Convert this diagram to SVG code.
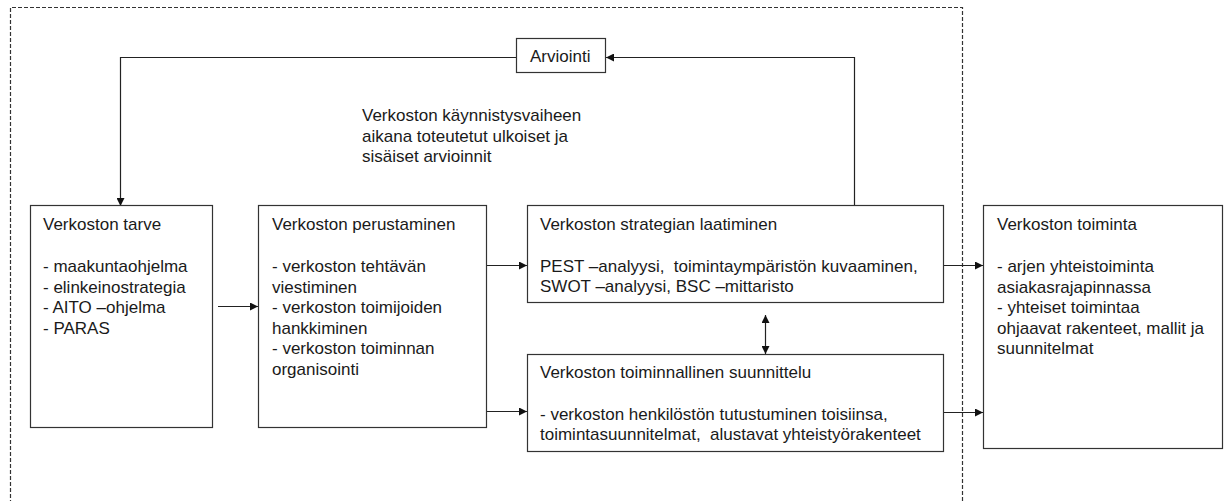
<svg xmlns="http://www.w3.org/2000/svg" width="1227" height="501" viewBox="0 0 1227 501">
  <defs>
    <marker id="arrow" viewBox="0 0 10 10" refX="10" refY="5" markerWidth="10" markerHeight="8" markerUnits="userSpaceOnUse" orient="auto-start-reverse">
      <path d="M0,0 L10,5 L0,10 z" fill="#111"/>
    </marker>
    <style>
      .box { fill: #fff; stroke: #333; stroke-width: 1.2; }
      .conn { fill: none; stroke: #222; stroke-width: 1.2; }
      .frame { fill: none; stroke: #333; stroke-width: 1.2; stroke-dasharray: 4 2; }
      text { font-family: "Liberation Sans", Arial, sans-serif; font-size: 17px; fill: #1a1a1a; }
    </style>
  </defs>
  <rect width="1227" height="501" fill="#fff"/>

  <!-- dashed frame around the start-up phase -->
  <path class="frame" d="M10.5,510 L10.5,7.5 L962.5,7.5 L962.5,510"/>

  <!-- connectors -->
  <g id="connectors">
    <!-- evaluation loop -->
    <path class="conn" d="M854.5,206 L854.5,57.5 L606,57.5" marker-end="url(#arrow)"/>
    <path class="conn" d="M516,57.5 L120.5,57.5 L120.5,206" marker-end="url(#arrow)"/>
    <!-- process flow -->
    <path class="conn" d="M218,306.5 L258,306.5" marker-end="url(#arrow)"/>
    <path class="conn" d="M487,265.5 L527,265.5" marker-end="url(#arrow)"/>
    <path class="conn" d="M487,411.5 L527,411.5" marker-end="url(#arrow)"/>
    <path class="conn" d="M944,265.5 L983,265.5" marker-end="url(#arrow)"/>
    <path class="conn" d="M944,412.5 L983,412.5" marker-end="url(#arrow)"/>
    <!-- strategy <-> operational planning -->
    <path class="conn" d="M765.5,315 L765.5,354" marker-start="url(#arrow)" marker-end="url(#arrow)"/>
  </g>

  <g id="arviointi">
    <rect class="box" x="516.5" y="38.5" width="89" height="34"/>
    <text x="530" y="62">Arviointi</text>
  </g>

  <g id="note">
    <text x="362" y="121">Verkoston käynnistysvaiheen</text>
    <text x="362" y="141.5">aikana toteutetut ulkoiset ja</text>
    <text x="362" y="162">sisäiset arvioinnit</text>
  </g>

  <g id="tarve">
    <rect class="box" x="30.5" y="205.5" width="182" height="222"/>
    <text x="43" y="230">Verkoston tarve</text>
    <text x="43" y="272">- maakuntaohjelma</text>
    <text x="43" y="292.5">- elinkeinostrategia</text>
    <text x="43" y="313">- AITO –ohjelma</text>
    <text x="43" y="333.5">- PARAS</text>
  </g>

  <g id="perustaminen">
    <rect class="box" x="258.5" y="205.5" width="228" height="222"/>
    <text x="272" y="230">Verkoston perustaminen</text>
    <text x="272" y="272">- verkoston tehtävän</text>
    <text x="272" y="292.5">viestiminen</text>
    <text x="272" y="313">- verkoston toimijoiden</text>
    <text x="272" y="333.5">hankkiminen</text>
    <text x="272" y="354">- verkoston toiminnan</text>
    <text x="272" y="374.5">organisointi</text>
  </g>

  <g id="strategia">
    <rect class="box" x="527.5" y="205.5" width="416" height="97"/>
    <text x="540" y="230">Verkoston strategian laatiminen</text>
    <text x="540" y="272">PEST –analyysi,&#160; toimintaympäristön kuvaaminen,</text>
    <text x="540" y="292">SWOT –analyysi, BSC –mittaristo</text>
  </g>

  <g id="suunnittelu">
    <rect class="box" x="527.5" y="354.5" width="416" height="97"/>
    <text x="540" y="378">Verkoston toiminnallinen suunnittelu</text>
    <text x="540" y="420">- verkoston henkilöstön tutustuminen toisiinsa,</text>
    <text x="540" y="440">toimintasuunnitelmat,&#160; alustavat yhteistyörakenteet</text>
  </g>

  <g id="toiminta">
    <rect class="box" x="983.5" y="205.5" width="239" height="243"/>
    <text x="997" y="230">Verkoston toiminta</text>
    <text x="997" y="272">- arjen yhteistoiminta</text>
    <text x="997" y="292.5">asiakasrajapinnassa</text>
    <text x="997" y="313">- yhteiset toimintaa</text>
    <text x="997" y="333.5">ohjaavat rakenteet, mallit ja</text>
    <text x="997" y="354">suunnitelmat</text>
  </g>
</svg>
